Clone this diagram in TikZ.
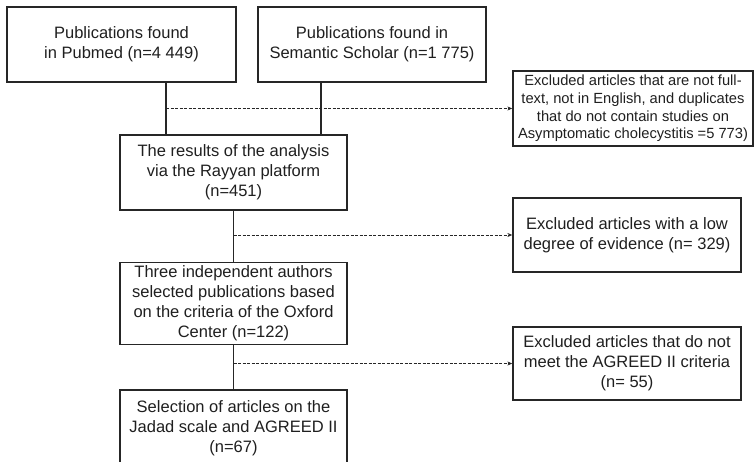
\documentclass[tikz,border=0pt]{standalone}
\usepackage{fontspec}
\setmainfont{Liberation Sans}
\usetikzlibrary{arrows.meta}

\tikzset{
  stagebox/.style={draw=black!85, line width=1.3pt, align=center, text=black!88,
    minimum width=227pt, font=\fontsize{16.5}{20}\selectfont},
  exclbox/.style={stagebox, minimum width=228pt},
  dasharr/.style={draw=black!85, line width=0.9pt, dash pattern=on 3pt off 1.5pt,
    -{Stealth[length=5pt,width=4pt]}},
  joinline/.style={draw=black!85, line width=1.3pt}
}

\begin{document}
\begin{tikzpicture}[x=1pt,y=-1pt]
  \clip (0,0) rectangle (754,462);

  % sources
  \node[stagebox, minimum width=229pt, minimum height=75pt] (pubmed) at (121.5,44.5)
    {Publications found\\in Pubmed (n=4 449)};
  \node[stagebox, minimum width=228pt, minimum height=75pt] (semantic) at (372,44.5)
    {Publications found in\\Semantic Scholar (n=1 775)};

  % main flow
  \node[stagebox, minimum height=75pt] (rayyan) at (233.5,172.5)
    {The results of the analysis\\via the Rayyan platform\\(n=451)};
  \node[stagebox, minimum height=81pt] (oxford) at (233.5,303.5)
    {Three independent authors\\selected publications based\\on the criteria of the Oxford\\Center (n=122)};
  \node[stagebox, minimum height=76pt] (jadad) at (233.5,428)
    {Selection of articles on the\\Jadad scale and AGREED II\\(n=67)};

  % excluded
  \node[exclbox, minimum width=240pt, minimum height=75pt,
        font=\fontsize{14.7}{17.7}\selectfont] (excl1) at (633,108.5)
    {Excluded articles that are not full-\\text, not in English, and duplicates\\that do not contain studies on\\Asymptomatic cholecystitis =5 773)};
  \node[exclbox, minimum height=74pt] (excl2) at (627,235)
    {Excluded articles with a low\\degree of evidence (n= 329)};
  \node[exclbox, minimum height=73pt] (excl3) at (627,363.5)
    {Excluded articles that do not\\meet the AGREED II criteria\\(n= 55)};

  \coordinate (pm) at ([xshift=44.5pt]pubmed.south);
  \coordinate (ss) at ([xshift=-51pt]semantic.south);

  \draw[joinline] (pm) -- (pm |- rayyan.north);
  \draw[joinline] (ss) -- (ss |- rayyan.north);
  \draw[joinline] (rayyan.south) -- (oxford.north);
  \draw[joinline] (oxford.south) -- (jadad.north);

  \draw[dasharr] (pm |- excl1.west) -- (excl1.west);
  \draw[dasharr] (rayyan.south |- excl2.west) -- (excl2.west);
  \draw[dasharr] (oxford.south |- excl3.west) -- (excl3.west);
\end{tikzpicture}
\end{document}
